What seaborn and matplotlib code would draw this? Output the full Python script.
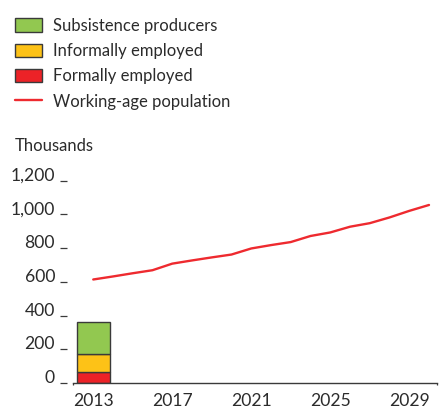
import matplotlib
matplotlib.use("Agg")
import matplotlib.pyplot as plt
import matplotlib.patches as mpatches
import matplotlib.lines as mlines
import seaborn as sns
import pandas as pd
import numpy as np

# ---- data ----
line_years = list(range(2013, 2031))
working_age = [614, 632, 651, 669, 708, 727, 745, 762, 798, 818,
               836, 872, 893, 927, 948, 982, 1021, 1056]
bar_year = 2013
formally = 64
informally = 110
subsistence = 186
yticks = [0, 200, 400, 600, 800, 1000, 1200]
ytick_labels = ["0", "200", "400", "600", "800", "1,000", "1,200"]
xticks = [2013, 2017, 2021, 2025, 2029]
legend_labels = ["Subsistence producers", "Informally employed",
                 "Formally employed", "Working-age population"]

# ---- style ----
sns.set_style("white")
plt.rcParams["font.family"] = ["Lato", "DejaVu Sans"]
TXT = "#2b2b2b"
GREEN = "#92c850"
YELLOW = "#fdc217"
RED = "#ec2227"
LINE = "#ee2a2f"
EDGE = "#3a3a3a"
FS = 12
TFS = 12.6

W, H = 441, 411
fig = plt.figure(figsize=(W / 100, H / 100), dpi=100)
ax = fig.add_axes([72.7 / W, (H - 383) / H, (436.7 - 72.7) / W, (383 - 180.7) / H])

df = pd.DataFrame({"year": line_years, "pop": working_age})

# stacked bar
bw = 1.65
ax.bar(bar_year, formally, width=bw, color=RED, edgecolor=EDGE, linewidth=1.0, zorder=2)
ax.bar(bar_year, informally, bottom=formally, width=bw, color=YELLOW,
       edgecolor=EDGE, linewidth=1.0, zorder=2)
ax.bar(bar_year, subsistence, bottom=formally + informally, width=bw, color=GREEN,
       edgecolor=EDGE, linewidth=1.0, zorder=2)

sns.lineplot(data=df, x="year", y="pop", ax=ax, color=LINE, linewidth=1.7, zorder=3)

ax.set_xlim(2011.96, 2030.39)
ax.set_ylim(0, 1200)
ax.set_xlabel("")
ax.set_ylabel("")

for s in ["top", "right"]:
    ax.spines[s].set_visible(False)
ax.spines["left"].set_position(("outward", 4.3))
ax.spines["left"].set_color("none")
ax.spines["bottom"].set_color(EDGE)
ax.spines["bottom"].set_linewidth(1.0)

ax.set_yticks(yticks)
ax.set_xticks(xticks)
ax.set_xticks([2011.96, 2030.39], minor=True)
ax.tick_params(axis="y", which="major", length=4.8, width=0.9, color=EDGE,
               direction="out", pad=3.6, left=True)
ax.tick_params(axis="x", which="major", length=0, pad=7)
ax.tick_params(axis="x", which="minor", length=1.6, width=0.9, color=EDGE,
               direction="out", bottom=True)
ax.set_yticklabels(ytick_labels, fontsize=TFS, color=TXT)
ax.set_xticklabels([str(x) for x in xticks], fontsize=TFS, color=TXT)
for lab in ax.get_yticklabels():
    lab.set_verticalalignment("baseline")
ax.grid(False)

# legend
handles = [
    mpatches.Patch(facecolor=GREEN, edgecolor=EDGE, linewidth=1.0),
    mpatches.Patch(facecolor=YELLOW, edgecolor=EDGE, linewidth=1.0),
    mpatches.Patch(facecolor=RED, edgecolor=EDGE, linewidth=1.0),
    mlines.Line2D([], [], color=LINE, linewidth=1.7),
]
leg = fig.legend(handles, legend_labels, loc="upper left",
                 bbox_to_anchor=(15 / W, 1 - 18 / H), frameon=False,
                 fontsize=FS, borderpad=0, borderaxespad=0,
                 handlelength=1.64, handleheight=0.88, handletextpad=0.62,
                 labelspacing=0.55)
for t in leg.get_texts():
    t.set_color(TXT)

fig.text(15 / W, 1 - 151 / H, "Thousands", fontsize=FS, color=TXT,
         ha="left", va="baseline")

fig.savefig("out.png", dpi=100)
